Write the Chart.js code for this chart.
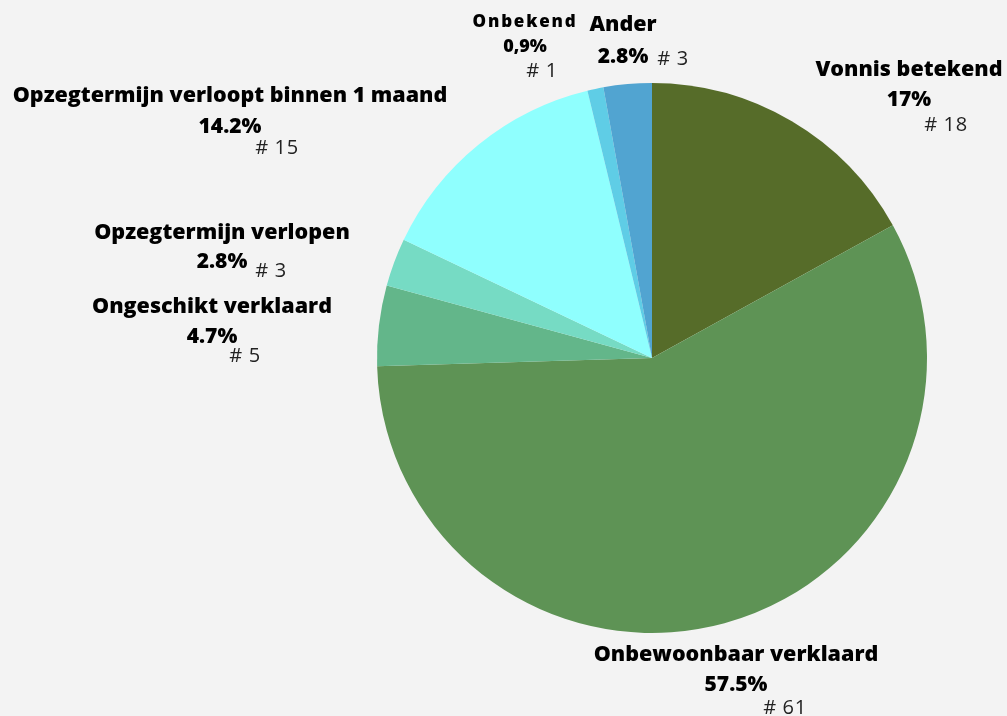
<!DOCTYPE html>
<html>
<head>
<meta charset="utf-8">
<script src="https://cdn.jsdelivr.net/npm/chart.js@4"></script>
<style>
  html, body { margin: 0; padding: 0; background: #f3f3f3; }
  #wrap { width: 1007px; height: 716px; }
</style>
</head>
<body>
<div id="wrap"><canvas id="pie"></canvas></div>
<script>
// data
var categories = ['Vonnis betekend', 'Onbewoonbaar verklaard', 'Ongeschikt verklaard', 'Opzegtermijn verlopen', 'Opzegtermijn verloopt binnen 1 maand', 'Onbekend', 'Ander'];
var counts = [18, 61, 5, 3, 15, 1, 3];
var percentLabels = ['17%', '57.5%', '4.7%', '2.8%', '14.2%', '0,9%', '2.8%'];
var sliceColors = ['#566c29', '#5e9355', '#63b68a', '#76dbc4', '#8ffffe', '#5fcde6', '#51a4d1'];

// label placement, relative to the pie centre: [name dx, name dy, pct dy, count dx, count dy]
var labelLayout = [
    [257, -288, -258, 294, -233],
    [84, 297, 327, 133, 350],
    [-440, -51, -21, -407, -2],
    [-430, -125, -96, -381, -87],
    [-422, -262, -231, -375, -210],
    [-127, -336, -311, -110, -287],
    [-29, -333, -301, 21, -299]
];

var labelPlugin = {
    id: 'pieLabels',
    afterDraw: function (chart) {
        let ctx = chart.ctx;
        let arc = chart.getDatasetMeta(0).data[0];
        let cx = arc.x, cy = arc.y;
        ctx.save();
        ctx.textBaseline = 'middle';
        for (let i = 0; i < categories.length; i++) {
            let l = labelLayout[i];
            ctx.textAlign = 'center';
            ctx.fillStyle = '#000';
            if (i === 5) {
                ctx.font = '800 17px "Open Sans"';
                ctx.letterSpacing = '1.8px';
            } else {
                ctx.font = '800 21.5px "Open Sans"';
                ctx.letterSpacing = '0px';
            }
            ctx.fillText(categories[i], cx + l[0], cy + l[1]);
            ctx.letterSpacing = '0px';
            ctx.font = (i === 5 ? '800 18px "Open Sans"' : '800 21px "Open Sans"');
            ctx.fillText(percentLabels[i], cx + l[0], cy + l[2]);
            ctx.font = '20px "Open Sans"';
            ctx.letterSpacing = '0.6px';
            ctx.fillStyle = '#222';
            ctx.fillText('# ' + counts[i], cx + l[3], cy + l[4]);
            ctx.letterSpacing = '0px';
        }
        ctx.restore();
    }
};

let ctx = document.getElementById('pie').getContext('2d');
let chart = new Chart(ctx, {
    type: 'pie',
    data: {
        labels: categories,
        datasets: [{
            data: counts,
            backgroundColor: sliceColors,
            borderWidth: 0
        }]
    },
    options: {
        responsive: true,
        maintainAspectRatio: false,
        animation: false,
        layout: {
            padding: { left: 377, right: 80, top: 83, bottom: 83 }
        },
        plugins: {
            legend: { display: false },
            tooltip: { enabled: false }
        }
    },
    plugins: [labelPlugin]
});
</script>
</body>
</html>
